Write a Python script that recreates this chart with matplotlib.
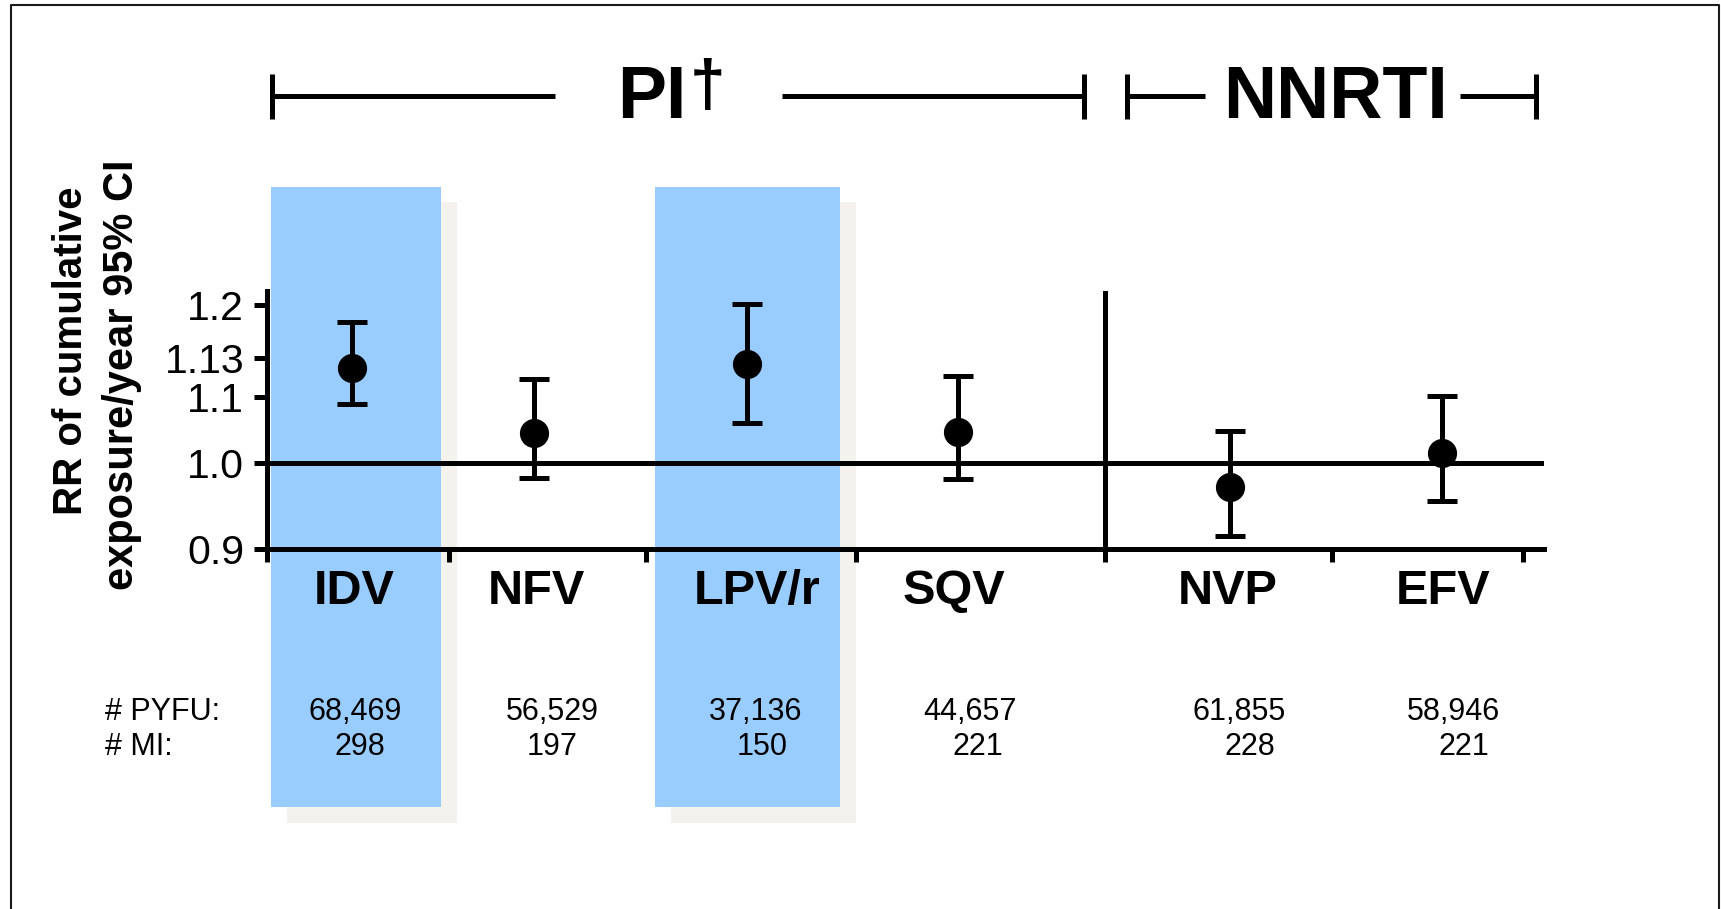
import numpy as np
import matplotlib
matplotlib.use("Agg")
import matplotlib.pyplot as plt
from matplotlib.patches import Rectangle
from matplotlib.lines import Line2D
from matplotlib.transforms import blended_transform_factory

plt.rcParams['font.family'] = ['Liberation Sans', 'DejaVu Sans']

# ---- data ----
drugs = ['IDV', 'NFV', 'LPV/r', 'SQV', 'NVP', 'EFV']
rr = [1.122, 1.045, 1.125, 1.047, 0.972, 1.015]
ci_low = [1.089, 0.982, 1.061, 0.981, 0.915, 0.956]
ci_high = [1.178, 1.114, 1.201, 1.116, 1.048, 1.101]
pyfu = ['68,469', '56,529', '37,136', '44,657', '61,855', '58,946']
mi_events = ['298', '197', '150', '221', '228', '221']
ytick_vals = [0.9, 1.0, 1.1, 1.13, 1.2]
ytick_labels = ['0.9', '1.0', '1.1', '1.13', '1.2']
highlighted = ['IDV', 'LPV/r']

# ---- layout (pixel columns of a 1721 x 909 canvas) ----
W, H = 1721, 909
def fx(px):
    return px / W
def fy(py):
    return 1 - py / H

x_pos = [352, 534, 747, 958, 1230, 1442]
label_x = [354, 536, 757, 954, 1228, 1443]
pyfu_x = [355, 552, 756, 970, 1239, 1453]
mi_x = [360, 552, 762, 978, 1250, 1464]
bounds = [267, 449, 646, 856, 1105, 1332, 1523]
band_spans = {'IDV': (271, 441), 'LPV/r': (655, 840)}
class_split = 1105

# uneven vertical scale: tick values sit at fixed heights above the axis
knot_vals = [0.9, 1.0, 1.1, 1.13, 1.2, 1.25]
knot_pix = [0.0, 86.0, 152.0, 191.0, 244.0, 281.9]
def y_fwd(v):
    return np.interp(v, knot_vals, knot_pix)
def y_inv(p):
    return np.interp(p, knot_pix, knot_vals)

fig = plt.figure(figsize=(W / 100, H / 100), dpi=100)
fig.patch.set_facecolor('white')
ax = fig.add_axes([fx(267), fy(549), fx(1544) - fx(267), fy(291) - fy(549)])
ax.patch.set_visible(False)
ax.set_xlim(267, 1544)
ax.set_yscale('function', functions=(y_fwd, y_inv))
ax.set_ylim(0.9, float(y_inv(258)))

blend = blended_transform_factory(ax.transData, fig.transFigure)

# shaded columns with a soft offset shadow
for name in highlighted:
    x0, x1 = band_spans[name]
    ax.add_patch(Rectangle((x0 + 16, fy(823)), x1 - x0, fy(202) - fy(823),
                           transform=blend, facecolor='#F3F2ED', edgecolor='none',
                           clip_on=False, zorder=0))
    ax.add_patch(Rectangle((x0, fy(807)), x1 - x0, fy(187) - fy(807),
                           transform=blend, facecolor='#99CCFF', edgecolor='none',
                           clip_on=False, zorder=0.5))

lw = 3.6
ax.axhline(1.0, color='black', lw=lw, zorder=2)
ax.axvline(class_split, color='black', lw=lw, zorder=2)

rr_a = np.array(rr)
yerr = [rr_a - np.array(ci_low), np.array(ci_high) - rr_a]
ax.errorbar(x_pos, rr, yerr=yerr, fmt='o', color='black', ms=20,
            elinewidth=lw, capsize=10.5, capthick=lw, zorder=4, clip_on=False)

for s in ['top', 'right']:
    ax.spines[s].set_visible(False)
for s in ['left', 'bottom']:
    ax.spines[s].set_linewidth(lw)

ax.set_xticks(bounds)
ax.tick_params(axis='x', direction='out', length=9.5, width=lw, labelbottom=False)
ax.set_yticks(ytick_vals)
ax.set_yticklabels(ytick_labels)
ax.yaxis.set_minor_locator(matplotlib.ticker.NullLocator())
ax.tick_params(axis='y', direction='out', length=9.5, width=lw, labelsize=29.5, pad=7)

# drug names under the axis
for x, name in zip(label_x, drugs):
    ax.text(x, fy(604), name, transform=blend, ha='center', va='baseline',
            fontsize=35, fontweight='bold')

# follow-up and event counts
fig.text(fx(105), fy(720), '# PYFU:', ha='left', va='baseline', fontsize=22)
fig.text(fx(105), fy(755), '# MI:', ha='left', va='baseline', fontsize=22)
for x, t in zip(pyfu_x, pyfu):
    ax.text(x, fy(720), t, transform=blend, ha='center', va='baseline', fontsize=22)
for x, t in zip(mi_x, mi_events):
    ax.text(x, fy(755), t, transform=blend, ha='center', va='baseline', fontsize=22)

# y-axis title
fig.text(fx(71.5), fy(351), 'RR of cumulative', rotation=90, ha='center', va='center',
         fontsize=29, fontweight='bold')
fig.text(fx(122), fy(375), 'exposure/year 95% CI', rotation=90, ha='center', va='center',
         fontsize=30, fontweight='bold')

# drug-class brackets
def seg(xs, ys):
    fig.add_artist(Line2D([fx(v) for v in xs], [fy(v) for v in ys],
                          transform=fig.transFigure, color='black', lw=lw,
                          solid_capstyle='butt'))

for xe in (272, 1084, 1127, 1536):
    seg([xe, xe], [74, 119])
seg([272, 555], [96, 96])
seg([782, 1084], [96, 96])
seg([1127, 1205], [96, 96])
seg([1460, 1536], [96, 96])

fig.text(fx(686), fy(118), 'PI', ha='right', va='baseline', fontsize=53,
         fontweight='bold')
fig.text(fx(690), fy(58), '\u2020', ha='left', va='top', fontsize=46, fontweight='bold')
fig.text(fx(1336), fy(118), 'NNRTI', ha='center', va='baseline', fontsize=53,
         fontweight='bold')

# outer frame
fig.add_artist(Line2D([fx(11), fx(11), fx(1719), fx(1719)], [0, fy(5), fy(5), 0],
                      transform=fig.transFigure, color='#1a1a1a', lw=1.5))

fig.savefig('out.png', dpi=100, facecolor='white')
